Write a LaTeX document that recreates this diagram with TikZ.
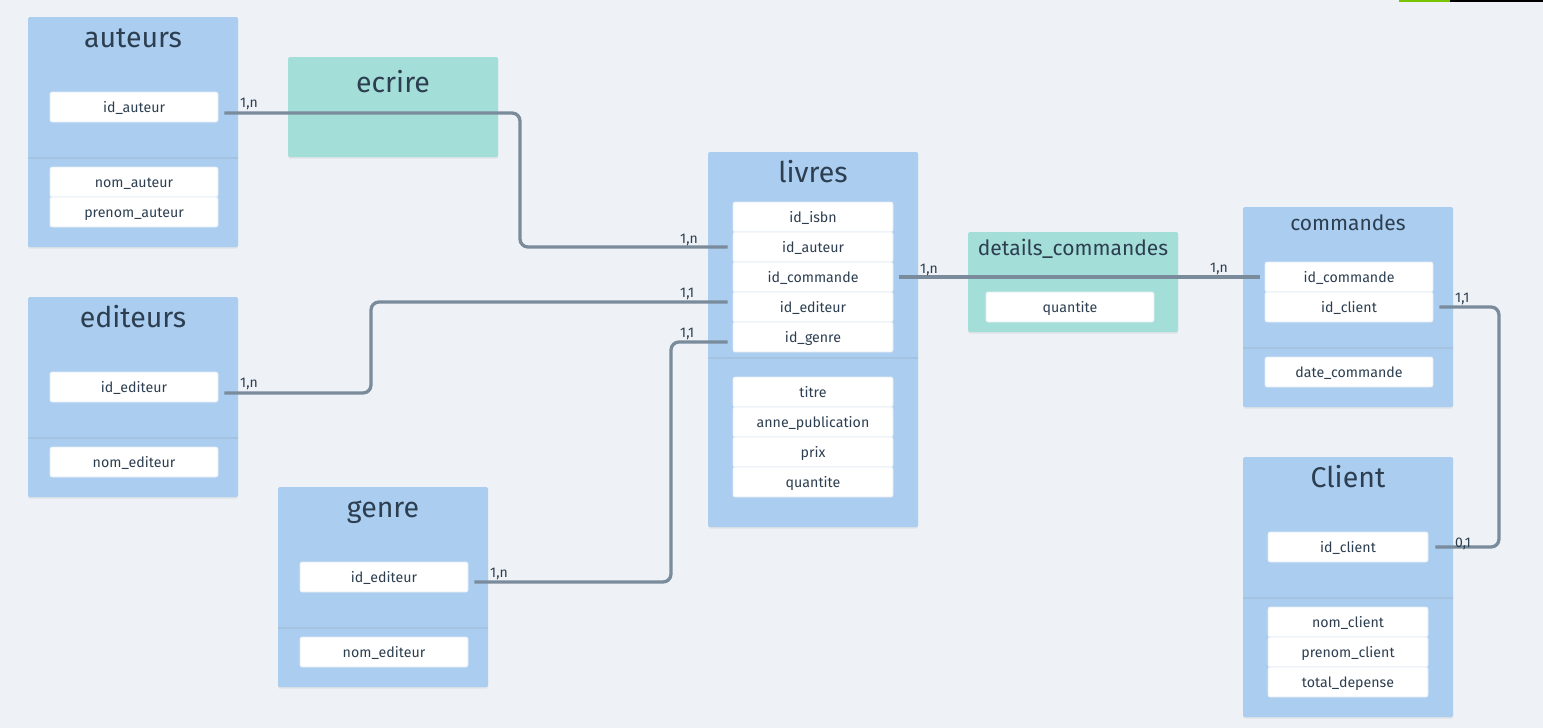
\documentclass[tikz,border=0pt]{standalone}
\usepackage{fontspec}
\setmainfont{Fira Sans}
\usetikzlibrary{shadows}
\definecolor{bgcol}{HTML}{EEF2F6}
\definecolor{entcol}{HTML}{AACDF0}
\definecolor{asscol}{HTML}{A4DED9}
\definecolor{inkcol}{HTML}{2C3E50}
\definecolor{linkcol}{HTML}{7A8B9C}
\definecolor{sepcol}{HTML}{E3ECF6}
\definecolor{barcol}{HTML}{76C500}
\tikzset{
  softshadow/.style={drop shadow={opacity=.13, shadow xshift=0pt, shadow yshift=-1.5pt}},
  entity/.style={fill=entcol, inner sep=0pt, minimum width=210pt, rounded corners=1.5pt, softshadow},
  assoc/.style={fill=asscol, inner sep=0pt, minimum width=210pt, minimum height=100pt, rounded corners=1.5pt, softshadow},
  keysec/.style={fill=entcol, inner sep=0pt, minimum width=210pt, minimum height=100pt, softshadow},
  field/.style={fill=white, draw=sepcol, line width=.6pt, rounded corners=2pt, minimum width=168pt,
    minimum height=30pt, inner sep=0pt, text height=10pt, text depth=0pt, text=inkcol,
    font=\fontsize{14.2}{16}\selectfont},
  bigtitle/.style={anchor=base, text=inkcol, inner sep=0pt, font=\fontsize{28.5}{30}\selectfont},
  smalltitle/.style={anchor=base, text=inkcol, inner sep=0pt, font=\fontsize{21}{24}\selectfont},
  card/.style={anchor=base west, inner sep=0pt, text=inkcol, font=\fontsize{14}{15}\selectfont},
  link/.style={draw=linkcol, line width=3.3pt, rounded corners=8pt},
}
\begin{document}
\begin{tikzpicture}[x=1pt,y=-1pt]

      \fill[bgcol] (0,0) rectangle (1543,728);
      \useasboundingbox (0,0) rectangle (1543,728);
      \fill[barcol] (1399,0) rectangle (1450,1.5);
      \fill[black] (1450,0) rectangle (1543,1.5);

      % tables
      \node[entity, minimum height=230pt] (auteurs)  at (133,132)    {};
      \node[entity, minimum height=200pt] (editeurs) at (133,397)    {};
      \node[entity, minimum height=200pt] (genre)    at (383,587)    {};
      \node[entity, minimum height=375pt] (livres)   at (813,339.5)  {};
      \node[entity, minimum height=200pt] (commandes) at (1348,307)  {};
      \node[entity, minimum height=260pt] (client)   at (1348,587)   {};
      \node[assoc] (ecrire)  at (393,107)  {};
      \node[assoc] (details) at (1073,282) {};

      \begin{scope}[every node/.style={keysec}]
        \node (auteurs-key)   at (133,107)  {};
        \node (editeurs-key)  at (133,387)  {};
        \node (genre-key)     at (383,577)  {};
        \node[minimum height=165pt] (livres-key) at (813,274.5) {};
        \node (commandes-key) at (1348,297) {};
        \node (client-key)    at (1348,547) {};
      \end{scope}

      \node[bigtitle]   (auteurs-t)   at (133,47)   {auteurs};
      \node[bigtitle]   (ecrire-t)    at (393,92)   {ecrire};
      \node[bigtitle]   (editeurs-t)  at (133,327)  {editeurs};
      \node[bigtitle]   (genre-t)     at (383,517)  {genre};
      \node[bigtitle]   (livres-t)    at (813,182)  {livres};
      \node[smalltitle] (details-t)   at (1073,255) {details\_commandes};
      \node[smalltitle] (commandes-t) at (1348,230) {commandes};
      \node[bigtitle]   (client-t)    at (1348,487) {Client};

      % fields
      \begin{scope}[every node/.style={field}]
        \node (auteurs-id)  at (134,107) {id\_auteur};
        \node (auteurs-nom) at (134,182) {nom\_auteur};
        \node (auteurs-pre) at (134,212) {prenom\_auteur};

        \node (editeurs-id)  at (134,387) {id\_editeur};
        \node (editeurs-nom) at (134,462) {nom\_editeur};

        \node (genre-id)  at (384,577) {id\_editeur};
        \node (genre-nom) at (384,652) {nom\_editeur};

        \node (details-qte) at (1070,307) {quantite};

        \node (commandes-id)   at (1349,277) {id\_commande};
        \node (commandes-cli)  at (1349,307) {id\_client};
        \node (commandes-date) at (1349,372) {date\_commande};
      \end{scope}

      \begin{scope}[every node/.style={field, minimum width=160pt}]
        \node (livres-isbn) at (813,217) {id\_isbn};
        \node (livres-aut)  at (813,247) {id\_auteur};
        \node (livres-com)  at (813,277) {id\_commande};
        \node (livres-edi)  at (813,307) {id\_editeur};
        \node (livres-gen)  at (813,337) {id\_genre};
        \node (livres-tit)  at (813,392) {titre};
        \node (livres-ann)  at (813,422) {anne\_publication};
        \node (livres-prix) at (813,452) {prix};
        \node (livres-qte)  at (813,482) {quantite};

        \node (client-id)  at (1348,547) {id\_client};
        \node (client-nom) at (1348,622) {nom\_client};
        \node (client-pre) at (1348,652) {prenom\_client};
        \node (client-tot) at (1348,682) {total\_depense};
      \end{scope}

      % links
      \coordinate (bendA) at (520,0);
      \coordinate (bendB) at (371,0);
      \coordinate (bendC) at (671,0);
      \coordinate (bendD) at (1499,0);

      \draw[link, shorten <=6pt, shorten >=5pt] ([yshift=-6pt]auteurs-id.east)
        -- ([yshift=-6pt]auteurs-id.east -| bendA) |- (livres-aut.west);
      \draw[link, shorten <=6pt, shorten >=5pt] ([yshift=-6pt]editeurs-id.east)
        -- ([yshift=-6pt]editeurs-id.east -| bendB) |- ([yshift=5pt]livres-edi.west);
      \draw[link, shorten <=6pt, shorten >=5pt] ([yshift=-5pt]genre-id.east)
        -- ([yshift=-5pt]genre-id.east -| bendC) |- ([yshift=-5pt]livres-gen.west);
      \draw[link, shorten <=6pt, shorten >=5pt] (livres-com.east) -- (commandes-id.west);
      \draw[link, shorten <=6pt, shorten >=7pt] (commandes-cli.east)
        -- (commandes-cli.east -| bendD) |- (client-id.east);

      \begin{scope}[every node/.style={card}]
        \node (c1)  at (240,107)  {1,n};
        \node (c2)  at (680,243)  {1,n};
        \node (c3)  at (680,297)  {1,1};
        \node (c4)  at (680,337)  {1,1};
        \node (c5)  at (240,387)  {1,n};
        \node (c6)  at (490,577)  {1,n};
        \node (c7)  at (920,273)  {1,n};
        \node (c8)  at (1210,272) {1,n};
        \node (c9)  at (1455,302) {1,1};
        \node (c10) at (1455,547) {0,1};
      \end{scope}

    \end{tikzpicture}
\end{document}
